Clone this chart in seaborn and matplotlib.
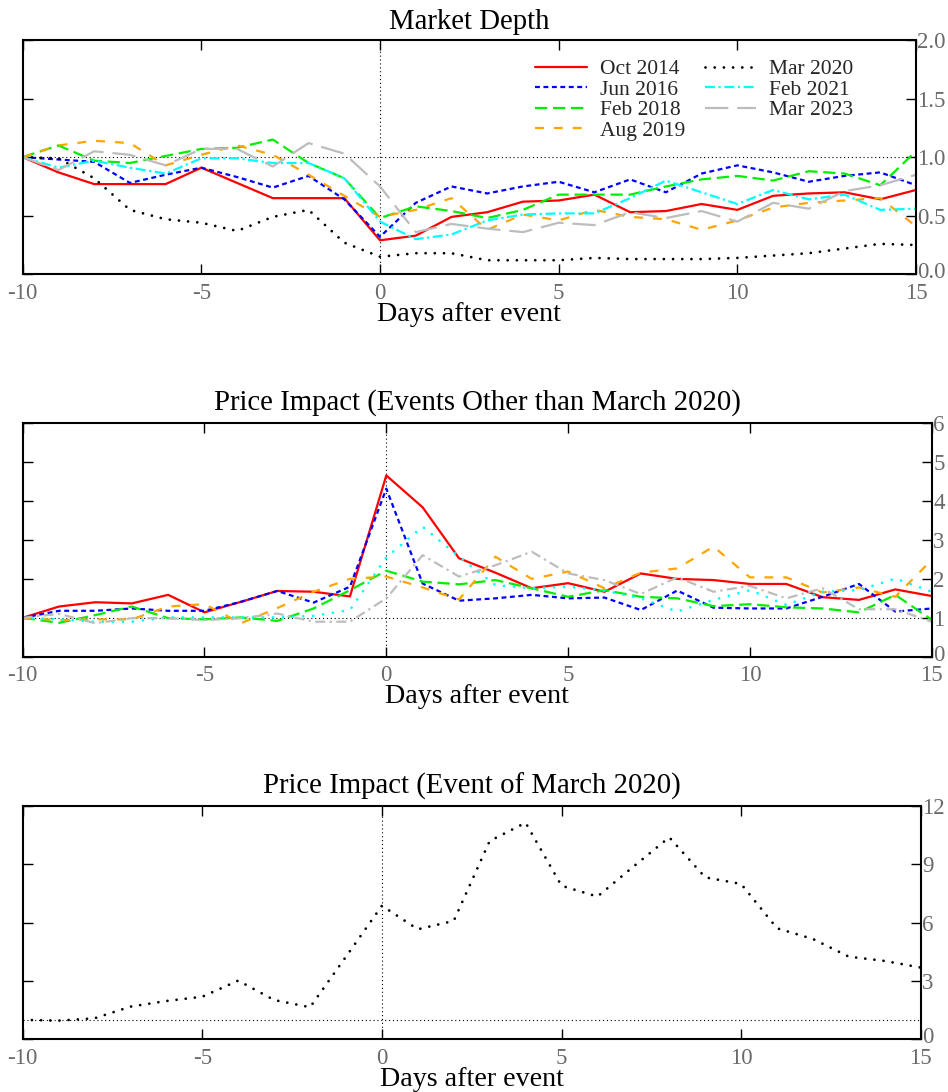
import numpy as np
import pandas as pd
import matplotlib
matplotlib.use("Agg")
import matplotlib.pyplot as plt
import matplotlib.transforms as mtransforms
import seaborn as sns

days = list(range(-10, 16))

labels = ["Oct 2014", "Jun 2016", "Feb 2018", "Aug 2019", "Mar 2020", "Feb 2021", "Mar 2023"]

depth_oct2014 = [1.00, 0.87, 0.77, 0.77, 0.77, 0.91, 0.78, 0.65, 0.65, 0.65, 0.29, 0.33, 0.49,
                 0.53, 0.62, 0.63, 0.68, 0.53, 0.54, 0.60, 0.55, 0.67, 0.69, 0.70, 0.64, 0.72]
depth_jun2016 = [1.00, 0.98, 0.96, 0.78, 0.85, 0.91, 0.83, 0.74, 0.84, 0.64, 0.32, 0.61, 0.75,
                 0.69, 0.75, 0.79, 0.70, 0.81, 0.70, 0.86, 0.93, 0.87, 0.79, 0.84, 0.87, 0.76]
depth_feb2018 = [1.00, 1.10, 0.97, 0.95, 1.01, 1.07, 1.08, 1.15, 0.95, 0.82, 0.48, 0.58, 0.54,
                 0.48, 0.55, 0.68, 0.68, 0.68, 0.75, 0.81, 0.84, 0.80, 0.88, 0.86, 0.76, 1.05]
depth_aug2019 = [1.00, 1.10, 1.14, 1.12, 0.93, 1.02, 1.10, 1.02, 0.85, 0.67, 0.49, 0.55, 0.65,
                 0.38, 0.51, 0.46, 0.55, 0.49, 0.47, 0.38, 0.46, 0.57, 0.61, 0.63, 0.65, 0.41]
depth_mar2020 = [1.00, 0.99, 0.82, 0.55, 0.47, 0.44, 0.37, 0.49, 0.55, 0.27, 0.15, 0.18, 0.18,
                 0.12, 0.12, 0.12, 0.14, 0.13, 0.13, 0.13, 0.14, 0.16, 0.18, 0.22, 0.26, 0.25]
depth_feb2021 = [1.00, 0.91, 0.97, 0.91, 0.86, 0.99, 0.99, 0.95, 0.95, 0.82, 0.45, 0.30, 0.34,
                 0.46, 0.51, 0.52, 0.52, 0.65, 0.80, 0.70, 0.60, 0.72, 0.64, 0.68, 0.55, 0.56]
depth_mar2023 = [1.00, 0.89, 1.05, 1.02, 0.93, 1.07, 1.07, 0.92, 1.12, 1.03, 0.75, 0.36, 0.43,
                 0.39, 0.36, 0.44, 0.42, 0.53, 0.48, 0.54, 0.45, 0.61, 0.56, 0.71, 0.76, 0.85]

impact_oct2014 = [1.00, 1.29, 1.40, 1.37, 1.59, 1.14, 1.41, 1.69, 1.67, 1.55, 4.66, 3.84, 2.53,
                  2.16, 1.76, 1.89, 1.67, 2.14, 2.00, 1.97, 1.87, 1.87, 1.53, 1.46, 1.73, 1.56]
impact_jun2016 = [1.00, 1.18, 1.18, 1.24, 1.18, 1.18, 1.41, 1.69, 1.39, 1.80, 4.32, 1.88, 1.44,
                  1.50, 1.59, 1.50, 1.52, 1.20, 1.70, 1.26, 1.24, 1.24, 1.54, 1.87, 1.16, 1.24]
impact_feb2018 = [1.00, 0.87, 1.07, 1.29, 0.99, 0.96, 1.01, 0.92, 1.24, 1.71, 2.21, 1.93, 1.86,
                  1.97, 1.76, 1.54, 1.71, 1.54, 1.50, 1.30, 1.35, 1.27, 1.24, 1.14, 1.59, 0.95]
impact_aug2019 = [1.00, 0.94, 0.96, 0.96, 1.29, 1.35, 0.86, 1.25, 1.67, 2.00, 2.06, 1.78, 1.47,
                  2.57, 2.00, 2.19, 1.76, 2.16, 2.27, 2.83, 2.04, 2.04, 1.65, 1.78, 1.54, 2.49]
impact_feb2021 = [1.00, 0.96, 0.90, 0.90, 1.01, 1.01, 1.01, 1.01, 1.05, 1.20, 2.55, 3.34, 2.57,
                  1.84, 1.76, 1.80, 1.70, 1.50, 1.16, 1.46, 1.71, 1.33, 1.67, 1.71, 2.01, 1.67]
impact_mar2023 = [1.00, 1.10, 0.86, 0.99, 0.99, 0.94, 0.99, 1.11, 0.90, 0.90, 1.50, 2.61, 2.06,
                  2.35, 2.70, 2.14, 1.97, 1.61, 2.04, 1.67, 1.82, 1.50, 1.76, 1.22, 1.22, 0.90]

impact_mar2020 = [1.00, 0.96, 1.08, 1.68, 1.97, 2.19, 3.02, 2.02, 1.65, 4.25, 6.87, 5.66, 6.09,
                  10.20, 11.14, 7.90, 7.34, 8.88, 10.39, 8.33, 7.99, 5.71, 5.16, 4.25, 4.03, 3.69]

xticks = [-10, -5, 0, 5, 10, 15]
xticklabels = ["-10", "-5", "0", "5", "10", "15"]
yticks1 = [0.0, 0.5, 1.0, 1.5, 2.0]
yticklabels1 = ["0.0", "0.5", "1.0", "1.5", "2.0"]
yticks2 = [0, 1, 2, 3, 4, 5, 6]
yticks3 = [0, 3, 6, 9, 12]

titles = ["Market Depth", "Price Impact (Events Other than March 2020)",
          "Price Impact (Event of March 2020)"]
xlabel = "Days after event"

# styles
colors = {"Oct 2014": "#ff0000", "Jun 2016": "#0000ff", "Feb 2018": "#00ee00",
          "Aug 2019": "#ffa500", "Mar 2020": "#000000", "Feb 2021": "#00ffff",
          "Mar 2023": "#bdbdbd"}
LW = 1.6
DOTTED = (0, (0.01, 3.3))
styles1 = {"Oct 2014": "-", "Jun 2016": (0, (2.2, 1.6)), "Feb 2018": (0, (5.5, 2.6)),
           "Aug 2019": (0, (4.0, 4.5)), "Mar 2020": DOTTED,
           "Feb 2021": (0, (4.5, 1.6, 1.0, 1.6)), "Mar 2023": (0, (10.5, 4.0))}
styles2 = dict(styles1)
styles2["Feb 2021"] = (0, (0.01, 3.6))
styles2["Mar 2023"] = (0, (4.5, 2.0, 1.0, 2.0))
dotted_like = {DOTTED, styles2["Feb 2021"]}

sns.set_style("white")
plt.rcParams["font.family"] = ["Liberation Serif", "DejaVu Serif"]
plt.rcParams["axes.unicode_minus"] = False

W, H = 948, 1092
fig = plt.figure(figsize=(W / 100, H / 100), dpi=100)


def ax_rect(left, right, top, bottom):
    return [left / W, 1 - bottom / H, (right - left) / W, (bottom - top) / H]


ax1 = fig.add_axes(ax_rect(22.7, 916, 40, 274.3))
ax2 = fig.add_axes(ax_rect(22.7, 931.7, 423.3, 656.7))
ax3 = fig.add_axes(ax_rect(22.7, 920.7, 806, 1039.3))

TICKCOL = "#6a6a6a"


def style_axes(ax, yticks, yticklabels, ylim, title, title_pad):
    ax.set_xlim(-10, 15)
    ax.set_ylim(*ylim)
    ax.set_xticks(xticks)
    ax.set_xticklabels(xticklabels)
    ax.set_yticks(yticks)
    ax.set_yticklabels(yticklabels)
    ax.yaxis.tick_right()
    ax.tick_params(axis="both", which="both", direction="in", length=7, width=1.0,
                   color="black", labelcolor=TICKCOL, labelsize=16.5,
                   top=True, bottom=True, left=True, right=True,
                   labelleft=False, labelright=True, labelbottom=True)
    ax.tick_params(axis="y", pad=1)
    ax.tick_params(axis="x", pad=6)
    for s in ax.spines.values():
        s.set_visible(True)
        s.set_color("black")
        s.set_linewidth(1.5)
    ax.set_xlabel(xlabel, fontsize=20.2, labelpad=-1.5, color="black")
    ax.set_ylabel("")
    ax.set_title(title, fontsize=20.7, pad=title_pad, color="black")
    ax.axhline(1.0, color="black", lw=0.8, ls=(0, (1, 2.5)), zorder=1)
    ax.axvline(0.0, color="black", lw=0.8, ls=(0, (1, 2.5)), zorder=1)
    # nudge the lowest right-hand label up slightly so it clears the last x label
    low = ax.get_yticklabels()[0]
    low.set_transform(low.get_transform() +
                      mtransforms.ScaledTranslation(0, 4 / 100, fig.dpi_scale_trans))


def draw(ax, vals, lab, ls, label=None):
    kw = dict(color=colors[lab], lw=LW, linestyle=ls, errorbar=None, legend=False)
    if ls in dotted_like:
        kw["dash_capstyle"] = "round"
        kw["lw"] = 2.0
    if label is not None:
        kw["label"] = label
    sns.lineplot(x=days, y=vals, ax=ax, **kw)


# Panel 1: market depth
depth_series = [depth_oct2014, depth_jun2016, depth_feb2018, depth_aug2019,
                depth_mar2020, depth_feb2021, depth_mar2023]
for lab, vals in zip(labels, depth_series):
    draw(ax1, vals, lab, styles1[lab], label=lab)
style_axes(ax1, yticks1, yticklabels1, (0, 2), titles[0], 8)
handles = [l for l in ax1.get_lines() if l.get_label() in labels]
ax1.legend(handles=handles, labels=[h.get_label() for h in handles], ncol=2,
           frameon=False, loc="upper left", bbox_to_anchor=(0.574, 0.918),
           borderpad=0, borderaxespad=0, fontsize=15.5, handlelength=2.4,
           handletextpad=0.6, columnspacing=0.9, labelspacing=0.02)

# Panel 2: price impact, other events
impact_series = [impact_oct2014, impact_jun2016, impact_feb2018, impact_aug2019,
                 impact_feb2021, impact_mar2023]
labels2 = ["Oct 2014", "Jun 2016", "Feb 2018", "Aug 2019", "Feb 2021", "Mar 2023"]
for lab, vals in zip(labels2, impact_series):
    draw(ax2, vals, lab, styles2[lab])
style_axes(ax2, yticks2, [str(v) for v in yticks2], (0, 6), titles[1], 10)

# Panel 3: price impact, March 2020
draw(ax3, impact_mar2020, "Mar 2020", styles1["Mar 2020"])
style_axes(ax3, yticks3, [str(v) for v in yticks3], (0, 12), titles[2], 9)

fig.savefig("out.png", dpi=100)
